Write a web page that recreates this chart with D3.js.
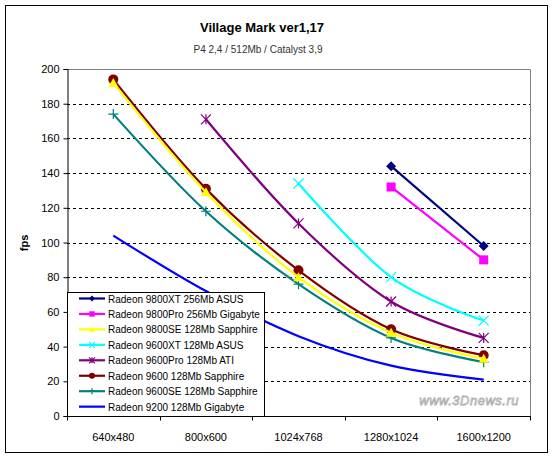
<!DOCTYPE html>
<html>
<head>
<meta charset="utf-8">
<title>Village Mark ver1,17</title>
<script src="https://cdnjs.cloudflare.com/ajax/libs/d3/7.8.5/d3.min.js"></script>
<style>
  body { margin: 0; background: #fff; }
  svg text { font-family: "Liberation Sans", Arial, sans-serif; }
</style>
</head>
<body>
<div id="chart"></div>
<script>
  // data
  var resolutions = ["640x480", "800x600", "1024x768", "1280x1024", "1600x1200"];
  var yTicks = [0, 20, 40, 60, 80, 100, 120, 140, 160, 180, 200];

  var r9800xt  = [null, null, null, 144, 98];
  var r9800pro = [null, null, null, 132, 90];
  var r9800se  = [192, 129, 80, 48, 33];
  var r9600xt  = [null, null, 134, 80, 55];
  var r9600pro = [null, 171, 111, 66, 45];
  var r9600    = [194, 131, 84, 50, 35];
  var r9600se  = [174, 118, 76, 45, 31];
  var r9200    = [104, 72, 46, 29, 21];

  var seriesNames = [
    "Radeon 9800XT 256Mb ASUS",
    "Radeon 9800Pro 256Mb Gigabyte",
    "Radeon 9800SE 128Mb Sapphire",
    "Radeon 9600XT 128Mb ASUS",
    "Radeon 9600Pro 128Mb ATI",
    "Radeon 9600 128Mb Sapphire",
    "Radeon 9600SE 128Mb Sapphire",
    "Radeon 9200 128Mb Gigabyte"
  ];
  var seriesValues = [r9800xt, r9800pro, r9800se, r9600xt, r9600pro, r9600, r9600se, r9200];
  var seriesColors = ["#000080", "#FF00FF", "#FFFF00", "#00FFFF", "#800080", "#800000", "#008080", "#0000FF"];
  var seriesMarkers = ["diamond", "square", "triangle", "x", "star", "circle", "plus", "none"];

  var W = 553, H = 458;
  var pLeft = 67, pRight = 530, pTop = 69, pBottom = 416;

  var svg = d3.select("#chart").append("svg")
    .attr("width", W).attr("height", H);

  // outer frame
  svg.append("rect")
    .attr("x", 5.5).attr("y", 5.5)
    .attr("width", 542).attr("height", 447)
    .attr("fill", "#fff").attr("stroke", "#000").attr("stroke-width", 1);

  var x = d3.scaleBand().domain(resolutions).range([pLeft, pRight]);
  var y = d3.scaleLinear().domain([0, 200]).range([pBottom, pTop]);

  // titles
  svg.append("text")
    .attr("x", 262).attr("y", 32)
    .attr("text-anchor", "middle")
    .attr("font-size", "13px").attr("font-weight", "bold")
    .text("Village Mark ver1,17");
  svg.append("text")
    .attr("x", 258).attr("y", 53)
    .attr("text-anchor", "middle")
    .attr("font-size", "10px").attr("fill", "#333")
    .text("P4 2,4 / 512Mb / Catalyst 3,9");

  // gridlines
  svg.append("g").selectAll("line")
    .data(yTicks.filter(function(d) { return d > 0 && d < 200; }))
    .enter().append("line")
    .attr("x1", pLeft).attr("x2", pRight)
    .attr("y1", function(d) { return Math.round(y(d)) + 0.5; })
    .attr("y2", function(d) { return Math.round(y(d)) + 0.5; })
    .attr("stroke", "#000").attr("stroke-dasharray", "3,3");

  // plot border top/right
  svg.append("path")
    .attr("d", "M" + pLeft + "," + (pTop + 0.5) + "H" + (pRight + 0.5) + "V" + pBottom)
    .attr("fill", "none").attr("stroke", "#808080");

  // y axis
  var yAxis = d3.axisLeft(y).tickValues(yTicks).tickSize(4).tickPadding(4);
  var gy = svg.append("g").attr("transform", "translate(" + (pLeft + 0.5) + ",0)").call(yAxis);
  gy.selectAll("text").attr("font-size", "11px").attr("font-family", "Liberation Sans, Arial, sans-serif");
  gy.select(".domain").attr("stroke", "#000");

  // x axis
  var gx = svg.append("g").attr("transform", "translate(0," + (pBottom + 0.5) + ")");
  gx.append("line").attr("x1", pLeft).attr("x2", pRight + 1).attr("stroke", "#000");
  gx.selectAll("line.tk")
    .data(resolutions.concat(["end"]))
    .enter().append("line").attr("class", "tk")
    .attr("x1", function(d, i) { return Math.round(pLeft + i * x.step()) + 0.5; })
    .attr("x2", function(d, i) { return Math.round(pLeft + i * x.step()) + 0.5; })
    .attr("y1", 0).attr("y2", 4).attr("stroke", "#000");
  gx.selectAll("text")
    .data(resolutions)
    .enter().append("text")
    .attr("x", function(d) { return x(d) + x.bandwidth() / 2; })
    .attr("y", 24)
    .attr("text-anchor", "middle")
    .attr("font-size", "11px")
    .text(function(d) { return d; });

  // y label
  svg.append("text")
    .attr("transform", "translate(28,243) rotate(-90)")
    .attr("text-anchor", "middle")
    .attr("font-size", "11px").attr("font-weight", "bold")
    .text("fps");

  // watermark
  svg.append("text")
    .attr("x", 519).attr("y", 405)
    .attr("text-anchor", "end")
    .attr("font-size", "13px").attr("font-style", "italic")
    .attr("letter-spacing", "0.5px")
    .attr("fill", "#fff").attr("stroke", "#b0b0b0").attr("stroke-width", 0.8)
    .text("www.3Dnews.ru");

  function drawMarker(g, type, color, s) {
    var h = s / 2;
    if (type === "diamond") {
      g.append("path").attr("d", "M0," + (-h) + "L" + h + ",0L0," + h + "L" + (-h) + ",0Z").attr("fill", color);
    } else if (type === "square") {
      g.append("rect").attr("x", -h).attr("y", -h).attr("width", s).attr("height", s).attr("fill", color);
    } else if (type === "triangle") {
      g.append("path").attr("d", "M0," + (-h) + "L" + h + "," + (h * 0.8) + "L" + (-h) + "," + (h * 0.8) + "Z").attr("fill", color);
    } else if (type === "circle") {
      g.append("circle").attr("r", h).attr("fill", color);
    } else if (type === "x") {
      g.append("path").attr("d", "M" + (-h) + "," + (-h) + "L" + h + "," + h + "M" + (-h) + "," + h + "L" + h + "," + (-h))
        .attr("stroke", color).attr("stroke-width", 1.2);
    } else if (type === "star") {
      g.append("path").attr("d", "M" + (-h) + "," + (-h) + "L" + h + "," + h + "M" + (-h) + "," + h + "L" + h + "," + (-h) + "M0," + (-h) + "V" + h)
        .attr("stroke", color).attr("stroke-width", 1.2);
    } else if (type === "plus") {
      g.append("path").attr("d", "M" + (-h) + ",0H" + h + "M0," + (-h) + "V" + h)
        .attr("stroke", color).attr("stroke-width", 1.2);
    }
  }

  var line = d3.line()
    .x(function(d) { return x(d.r) + x.bandwidth() / 2; })
    .y(function(d) { return y(d.v); })
    .curve(d3.curveCatmullRom.alpha(0));

  var markerSize = { diamond: 10, square: 9, triangle: 10, x: 10, star: 10, circle: 10, plus: 10, none: 0 };

  // draw series, last first so 9800XT ends on top
  for (var i = seriesValues.length - 1; i >= 0; i--) {
    var pts = seriesValues[i].map(function(v, j) { return { r: resolutions[j], v: v }; });
    var valid = pts.filter(function(d) { return d.v != null; });
    svg.append("path")
      .attr("d", line(valid))
      .attr("fill", "none")
      .attr("stroke", seriesColors[i])
      .attr("stroke-width", 2.2);
    var mk = seriesMarkers[i];
    if (mk !== "none") {
      svg.append("g").selectAll("g")
        .data(valid).enter().append("g")
        .attr("transform", function(d) { return "translate(" + (x(d.r) + x.bandwidth() / 2) + "," + y(d.v) + ")"; })
        .each(function() { drawMarker(d3.select(this), mk, seriesColors[i], markerSize[mk]); });
    }
  }

  // legend
  var lg = svg.append("g");
  lg.append("rect")
    .attr("x", 67.5).attr("y", 292.5)
    .attr("width", 197).attr("height", 124)
    .attr("fill", "#fff").attr("stroke", "#000");
  var rows = lg.selectAll("g.row")
    .data(seriesNames).enter().append("g")
    .attr("transform", function(d, i) { return "translate(0," + (298.5 + i * 15.45) + ")"; });
  rows.append("line")
    .attr("x1", 79).attr("x2", 105)
    .attr("stroke", function(d, i) { return seriesColors[i]; })
    .attr("stroke-width", 2.2);
  rows.each(function(d, i) {
    var g = d3.select(this).append("g").attr("transform", "translate(92,0)");
    drawMarker(g, seriesMarkers[i], seriesColors[i], markerSize[seriesMarkers[i]] * 0.6);
  });
  rows.append("text")
    .attr("x", 108).attr("y", 4)
    .attr("font-size", "10px")
    .text(function(d) { return d; });
</script>
</body>
</html>
